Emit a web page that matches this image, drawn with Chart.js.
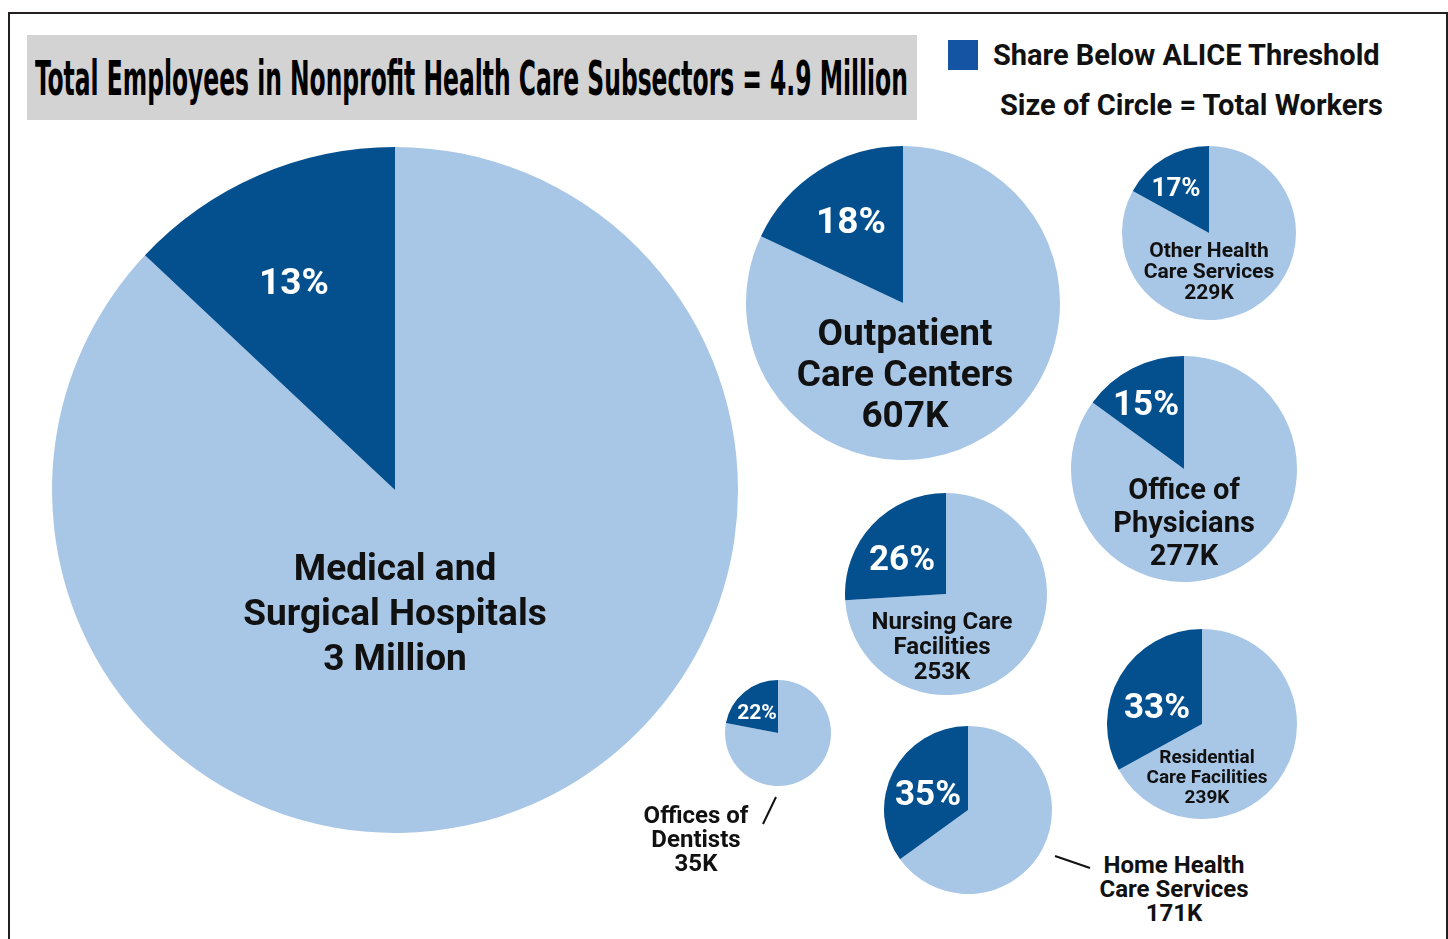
<!DOCTYPE html>
<html>
<head>
<meta charset="utf-8">
<script src="https://cdn.jsdelivr.net/npm/chart.js@4"></script>
<style>
  html, body { margin: 0; padding: 0; background: #fff; }
  #page { position: relative; width: 1448px; height: 939px; overflow: hidden; font-family: Roboto, "Noto Sans", sans-serif; font-weight: 700; }
  #frame { position: absolute; left: 8px; top: 12px; width: 1436px; height: 940px; border: 2px solid #231f20; border-bottom: none; }
  #titleBox { position: absolute; left: 27px; top: 35px; width: 890px; height: 85px; background: #d3d3d3; }
  #title { position: absolute; left: 35px; top: 52px; font-family: "Liberation Sans Narrow", "DejaVu Sans Condensed", sans-serif; font-weight: 700; font-size: 48px; line-height: 52px; white-space: nowrap; transform-origin: 0 0; color: #000; }
  .pie { position: absolute; }
  .lbl { position: absolute; transform: translate(-50%, -50%); text-align: center; white-space: nowrap; color: #111; }
  .pct { color: #fff; }
  #legendBox { position: absolute; left: 948px; top: 40px; width: 30px; height: 30px; background: #1454a3; }
  .legendText { position: absolute; font-size: 29px; line-height: 30px; color: #111; white-space: nowrap; }
  .leader { position: absolute; height: 2px; background: #111; transform-origin: 0 50%; }
</style>
</head>
<body>
<div id="page">
  <div id="frame"></div>
  <div id="titleBox"></div>
  <div id="title">Total Employees in Nonprofit Health Care Subsectors = 4.9 Million</div>
  <div id="legendBox"></div>
  <div class="legendText" style="left:993px; top:40px;">Share Below ALICE Threshold</div>
  <div class="legendText" style="right:65px; top:90px;">Size of Circle = Total Workers</div>
</div>
<script>
// data
const subsectors = [
  "Medical and\nSurgical Hospitals",
  "Outpatient\nCare Centers",
  "Other Health\nCare Services",
  "Office of\nPhysicians",
  "Nursing Care\nFacilities",
  "Residential\nCare Facilities",
  "Home Health\nCare Services",
  "Offices of\nDentists"
];
const totalWorkers = [3000, 607, 229, 277, 253, 239, 171, 35]; // thousands
const totalLabels = ["3 Million", "607K", "229K", "277K", "253K", "239K", "171K", "35K"];
const shareBelowAlice = [13, 18, 17, 15, 26, 33, 35, 22]; // percent

const darkBlue = "#04508f";
const lightBlue = "#a8c6e6";

// layout: circle center/radius, percent label spot and size, name label spot and size
const layout = [
  { cx: 395, cy: 490, r: 343, px: 294, py: 281, pf: 37, nx: 395, ny: 612, nf: 37, lh: 45 },
  { cx: 903, cy: 303, r: 157, px: 851, py: 220, pf: 37, nx: 905, ny: 373, nf: 37, lh: 41 },
  { cx: 1209, cy: 233, r: 87, px: 1176, py: 187, pf: 26, nx: 1209, ny: 271, nf: 21, lh: 21 },
  { cx: 1184, cy: 469, r: 113, px: 1146, py: 403, pf: 35, nx: 1184, ny: 522, nf: 29, lh: 33 },
  { cx: 946, cy: 594, r: 101, px: 902, py: 558, pf: 35, nx: 942, ny: 646, nf: 24, lh: 25 },
  { cx: 1202, cy: 724, r: 95, px: 1157, py: 706, pf: 35, nx: 1207, ny: 777, nf: 19, lh: 20 },
  { cx: 968, cy: 810, r: 84, px: 928, py: 793, pf: 35, nx: 1174, ny: 889, nf: 24, lh: 24, outside: true },
  { cx: 778, cy: 733, r: 53, px: 757, py: 712, pf: 21, nx: 696, ny: 839, nf: 24, lh: 24, outside: true }
];
const leaders = [
  { x1: 1055, y1: 856, x2: 1090, y2: 868 },
  { x1: 776, y1: 797, x2: 763, y2: 824 }
];

const page = document.getElementById("page");

// squeeze the title to the condensed look of the original
const title = document.getElementById("title");
title.style.transform = "scaleX(" + (873 / title.offsetWidth) + ")";

subsectors.forEach((name, i) => {
  const L = layout[i];
  const holder = document.createElement("div");
  holder.className = "pie";
  holder.style.left = (L.cx - L.r) + "px";
  holder.style.top = (L.cy - L.r) + "px";
  const canvas = document.createElement("canvas");
  canvas.width = L.r * 2;
  canvas.height = L.r * 2;
  holder.appendChild(canvas);
  page.insertBefore(holder, document.getElementById("legendBox"));

  new Chart(canvas.getContext("2d"), {
    type: "pie",
    data: {
      labels: ["Above threshold", "Share Below ALICE Threshold"],
      datasets: [{
        data: [100 - shareBelowAlice[i], shareBelowAlice[i]],
        backgroundColor: [lightBlue, darkBlue],
        borderWidth: 0
      }]
    },
    options: {
      responsive: false,
      animation: false,
      layout: { padding: 0 },
      plugins: { legend: { display: false }, tooltip: { enabled: false } }
    }
  });

  const pct = document.createElement("div");
  pct.className = "lbl pct";
  pct.style.left = L.px + "px";
  pct.style.top = L.py + "px";
  pct.style.fontSize = L.pf + "px";
  pct.textContent = shareBelowAlice[i] + "%";
  page.appendChild(pct);

  const lbl = document.createElement("div");
  lbl.className = "lbl";
  lbl.style.left = L.nx + "px";
  lbl.style.top = L.ny + "px";
  lbl.style.fontSize = L.nf + "px";
  lbl.style.lineHeight = L.lh + "px";
  lbl.innerText = name + "\n" + totalLabels[i];
  page.appendChild(lbl);
});

leaders.forEach((s) => {
  const d = document.createElement("div");
  d.className = "leader";
  const len = Math.hypot(s.x2 - s.x1, s.y2 - s.y1);
  const ang = Math.atan2(s.y2 - s.y1, s.x2 - s.x1) * 180 / Math.PI;
  d.style.left = s.x1 + "px";
  d.style.top = (s.y1 - 1) + "px";
  d.style.width = len + "px";
  d.style.transform = "rotate(" + ang + "deg)";
  page.appendChild(d);
});
</script>
</body>
</html>
